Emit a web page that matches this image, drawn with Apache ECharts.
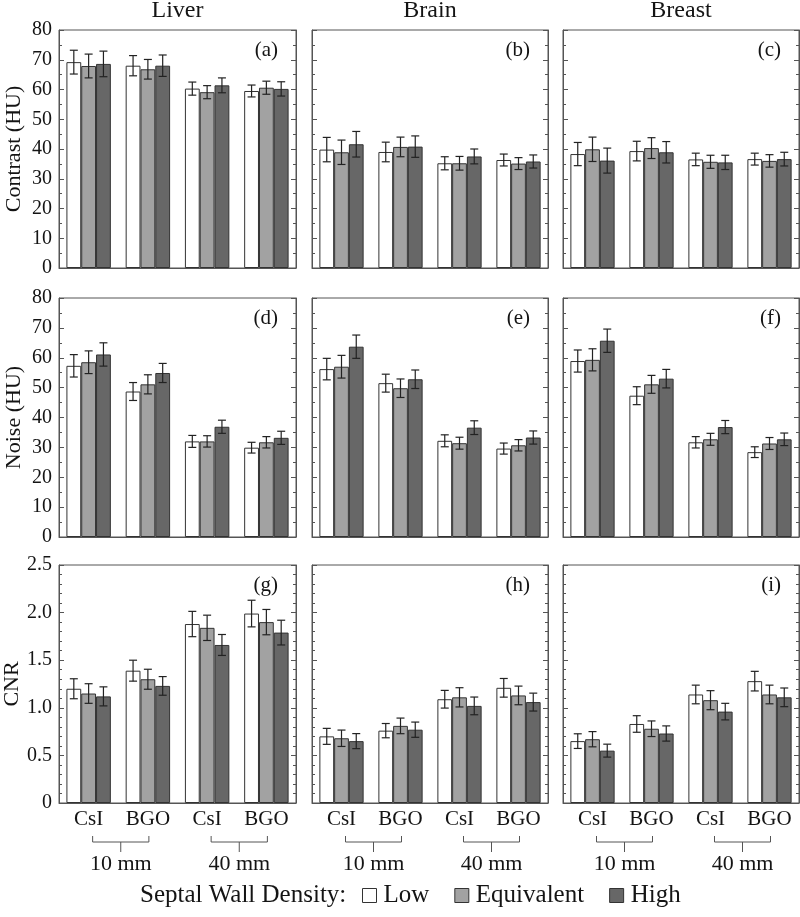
<!DOCTYPE html>
<html>
<head>
<meta charset="utf-8">
<script src="https://cdn.jsdelivr.net/npm/echarts@6/dist/echarts.min.js"></script>
<style>html,body{margin:0;padding:0;background:#fff;}#chart{width:800px;height:917px;}</style>
</head>
<body>
<div id="chart"></div>
<script>
// ---------------- data ----------------
const categories = ['CsI', 'BGO', 'CsI', 'BGO'];
const pitchGroups = [[0, 1, '10 mm'], [2, 3, '40 mm']];
const organs = ['Liver', 'Brain', 'Breast'];
const metricNames = ['Contrast (HU)', 'Noise (HU)', 'CNR'];
const densities = ['Low', 'Equivalent', 'High'];
const panelLetters = ['(a)', '(b)', '(c)', '(d)', '(e)', '(f)', '(g)', '(h)', '(i)'];
const huTickLabels = ['0', '10', '20', '30', '40', '50', '60', '70', '80'];
const cnrTickLabels = ['0', '0.5', '1.0', '1.5', '2.0', '2.5'];

// rows: Low, Equivalent, High ; columns: CsI 10mm, BGO 10mm, CsI 40mm, BGO 40mm
const contrastLiver = [[69.2, 68.0, 60.3, 59.5], [67.9, 66.8, 59.1, 60.6], [68.6, 68.0, 61.4, 60.2]];
const contrastLiverErr = [[4.0, 3.4, 2.2, 2.0], [4.0, 3.3, 2.2, 2.2], [4.3, 3.6, 2.5, 2.4]];
const contrastBrain = [[39.8, 39.0, 35.2, 36.3], [38.9, 40.7, 35.2, 35.1], [41.6, 40.8, 37.5, 35.8]];
const contrastBrainErr = [[4.1, 3.3, 2.2, 2.0], [4.1, 3.3, 2.3, 2.0], [4.3, 3.6, 2.5, 2.2]];
const contrastBreast = [[38.3, 39.3, 36.5, 36.6], [39.9, 40.3, 35.7, 36.0], [36.1, 38.9, 35.5, 36.6]];
const contrastBreastErr = [[3.9, 3.3, 2.1, 2.0], [4.1, 3.5, 2.2, 2.1], [4.2, 3.6, 2.4, 2.3]];

const noiseLiver = [[57.3, 48.7, 32.0, 29.9], [58.5, 51.1, 32.0, 31.7], [61.1, 54.9, 36.9, 33.2]];
const noiseLiverErr = [[3.75, 3.0, 2.0, 1.8], [3.8, 3.2, 1.9, 1.9], [3.9, 3.2, 2.2, 2.2]];
const noiseBrain = [[56.2, 51.5, 32.2, 29.6], [57.0, 49.8, 31.4, 30.7], [63.7, 52.8, 36.6, 33.3]];
const noiseBrainErr = [[3.6, 3.0, 2.0, 1.85], [3.8, 3.1, 2.0, 1.9], [3.9, 3.1, 2.3, 2.2]];
const noiseBreast = [[58.9, 47.3, 31.7, 28.4], [59.3, 51.1, 32.7, 31.3], [65.7, 53.0, 36.8, 32.7]];
const noiseBreastErr = [[3.7, 3.0, 1.9, 1.8], [3.7, 3.0, 2.0, 2.0], [3.9, 3.1, 2.2, 2.1]];

const cnrLiver = [[1.20, 1.39, 1.88, 1.99], [1.15, 1.30, 1.84, 1.90], [1.12, 1.23, 1.66, 1.79]];
const cnrLiverErr = [[0.105, 0.11, 0.133, 0.14], [0.103, 0.105, 0.133, 0.133], [0.10, 0.098, 0.11, 0.13]];
const cnrBrain = [[0.70, 0.76, 1.09, 1.21], [0.68, 0.81, 1.11, 1.13], [0.65, 0.77, 1.02, 1.06]];
const cnrBrainErr = [[0.084, 0.075, 0.093, 0.098], [0.086, 0.082, 0.101, 0.098], [0.079, 0.08, 0.093, 0.094]];
const cnrBreast = [[0.65, 0.83, 1.14, 1.28], [0.67, 0.78, 1.08, 1.14], [0.55, 0.73, 0.96, 1.11]];
const cnrBreastErr = [[0.077, 0.087, 0.098, 0.103], [0.08, 0.082, 0.10, 0.098], [0.068, 0.08, 0.087, 0.098]];

// ---------------- layout / style ----------------
const FONT = "'Liberation Serif', 'Times New Roman', serif";
const TXT = '#141414';
const fillColors = ['#ffffff', '#a2a2a2', '#676767'];
const barBorder = '#333333';
const frameColor = '#555555';
const colLeft = [59, 312, 563];
const colWidth = [237, 236, 236];
const rowTop = [30, 298, 565];
const rowHeight = [238, 239, 238];

const tables = [
  [contrastLiver, contrastLiverErr], [contrastBrain, contrastBrainErr], [contrastBreast, contrastBreastErr],
  [noiseLiver, noiseLiverErr], [noiseBrain, noiseBrainErr], [noiseBreast, noiseBreastErr],
  [cnrLiver, cnrLiverErr], [cnrBrain, cnrBrainErr], [cnrBreast, cnrBreastErr]
];
const rowAxis = [
  { max: 80, interval: 10, minor: 2, labels: huTickLabels },
  { max: 80, interval: 10, minor: 2, labels: huTickLabels },
  { max: 2.5, interval: 0.5, minor: 5, labels: cnrTickLabels }
];

const grids = [], xAxes = [], yAxes = [], series = [], titles = [];

for (let r = 0; r < 3; r++) {
  for (let c = 0; c < 3; c++) {
    const p = r * 3 + c;
    const ax = rowAxis[r];
    grids.push({
      left: colLeft[c], top: rowTop[r], width: colWidth[c], height: rowHeight[r],
      show: true, borderColor: frameColor, borderWidth: 1, backgroundColor: 'transparent',
      containLabel: false, outerBoundsMode: 'none'
    });
    xAxes.push({
      type: 'category', gridIndex: p, data: categories,
      axisLine: { show: true, lineStyle: { color: frameColor, width: 1 } },
      axisTick: { show: false },
      axisLabel: { show: r === 2, fontFamily: FONT, fontSize: 21, color: TXT, margin: 6 },
      splitLine: { show: false }
    });
    const tickFmt = (v) => {
      const idx = Math.round(v / ax.interval);
      return ax.labels[idx] !== undefined ? ax.labels[idx] : '';
    };
    // left axis
    yAxes[p] = {
      type: 'value', gridIndex: p, position: 'left', min: 0, max: ax.max, interval: ax.interval,
      axisLine: { show: true, lineStyle: { color: frameColor, width: 1 } },
      axisTick: { show: true, inside: true, length: 5, lineStyle: { color: frameColor } },
      minorTick: { show: true, splitNumber: ax.minor, length: 3, lineStyle: { color: frameColor } },
      axisLabel: { show: c === 0, fontFamily: FONT, fontSize: 20, color: TXT, margin: 7, formatter: tickFmt },
      splitLine: { show: false }, minorSplitLine: { show: false },
      name: c === 0 ? metricNames[r] : '', nameLocation: 'middle', nameGap: 34,
      nameTextStyle: { fontFamily: FONT, fontSize: 22, color: TXT }
    };
    // right mirrored axis (ticks only)
    yAxes[9 + p] = {
      type: 'value', gridIndex: p, position: 'right', min: 0, max: ax.max, interval: ax.interval,
      axisLine: { show: true, lineStyle: { color: frameColor, width: 1 } },
      axisTick: { show: true, inside: true, length: 5, lineStyle: { color: frameColor } },
      minorTick: { show: true, splitNumber: ax.minor, length: 3, lineStyle: { color: frameColor } },
      axisLabel: { show: false }, splitLine: { show: false }, minorSplitLine: { show: false }
    };

    const [vals, errs] = tables[p];
    for (let s = 0; s < 3; s++) {
      series.push({
        type: 'bar', name: densities[s], xAxisIndex: p, yAxisIndex: p,
        data: vals[s], barGap: '0%', barCategoryGap: '25%', silent: true,
        itemStyle: { color: fillColors[s], borderColor: barBorder, borderWidth: 1 }
      });
    }
    const errData = [];
    for (let s = 0; s < 3; s++) for (let i = 0; i < 4; i++) errData.push([i, vals[s][i], errs[s][i], s]);
    series.push({
      type: 'custom', xAxisIndex: p, yAxisIndex: p, data: errData, silent: true, z: 10,
      encode: { x: 0, y: 1 },
      renderItem: function (params, api) {
        const cat = api.value(0), v = api.value(1), e = api.value(2), s = api.value(3);
        const band = api.size([1, 0])[0];
        const bw = band * 0.75 / 3;
        const x = api.coord([cat, v])[0] + (s - 1) * bw;
        const yT = api.coord([cat, v + e])[1];
        const yB = api.coord([cat, v - e])[1];
        const h = 4;
        const st = { stroke: '#222', lineWidth: 1.2 };
        return {
          type: 'group', children: [
            { type: 'line', shape: { x1: x, y1: yT, x2: x, y2: yB }, style: st },
            { type: 'line', shape: { x1: x - h, y1: yT, x2: x + h, y2: yT }, style: st },
            { type: 'line', shape: { x1: x - h, y1: yB, x2: x + h, y2: yB }, style: st }
          ]
        };
      }
    });
    if (r === 2) {
      series.push({
        type: 'custom', xAxisIndex: p, yAxisIndex: p, silent: true, clip: false,
        data: pitchGroups.map((g, k) => [g[0], 0, g[1], k]),
        encode: { x: 0, y: 1 },
        renderItem: function (params, api) {
          const c1 = api.value(0), c2 = api.value(2), k = api.value(3);
          const p1 = api.coord([c1, 0]), p2 = api.coord([c2, 0]);
          const x1 = p1[0] + 4, x2 = p2[0] + 1, xm = (x1 + x2) / 2, yb = p1[1];
          const st = { stroke: '#555', lineWidth: 1 };
          return {
            type: 'group', children: [
              { type: 'polyline', shape: { points: [[x1, yb + 33], [x1, yb + 39], [x2, yb + 39], [x2, yb + 33]] }, style: Object.assign({ fill: null }, st) },
              { type: 'line', shape: { x1: xm, y1: yb + 39, x2: xm, y2: yb + 49 }, style: st },
              { type: 'text', style: { x: xm, y: yb + 61, text: pitchGroups[k][2], align: 'center', verticalAlign: 'middle', fontFamily: FONT, fontSize: 22, fill: TXT } }
            ]
          };
        }
      });
    }
    titles.push({
      text: panelLetters[p], left: colLeft[c] + colWidth[c] - 18, top: rowTop[r] + 10, textAlign: 'right', padding: 0,
      textStyle: { fontFamily: FONT, fontSize: 21, fontWeight: 'normal', color: TXT }
    });
  }
}
for (let c = 0; c < 3; c++) {
  titles.push({
    text: organs[c], left: colLeft[c] + colWidth[c] / 2, top: -1, textAlign: 'center', padding: 0,
    textStyle: { fontFamily: FONT, fontSize: 24, fontWeight: 'normal', color: TXT }
  });
}

const option = {
  animation: false,
  backgroundColor: '#ffffff',
  title: titles,
  grid: grids,
  xAxis: xAxes,
  yAxis: yAxes,
  series: series,
  legend: {
    left: 362, top: 883, padding: 0, icon: 'rect', itemWidth: 14, itemHeight: 14, itemGap: 25,
    selectedMode: false,
    textStyle: { fontFamily: FONT, fontSize: 25, color: TXT, padding: [0, 0, 0, 2] },
    data: densities.map((d, s) => ({ name: d, itemStyle: { color: fillColors[s], borderColor: barBorder, borderWidth: 1 } }))
  },
  graphic: [{
    type: 'text', left: 140, top: 883,
    style: { text: 'Septal Wall Density:', fontFamily: FONT, fontSize: 25, fill: TXT }
  }]
};

const chart = echarts.init(document.getElementById('chart'), null, { renderer: 'canvas' });
chart.setOption(option);
</script>
</body>
</html>
